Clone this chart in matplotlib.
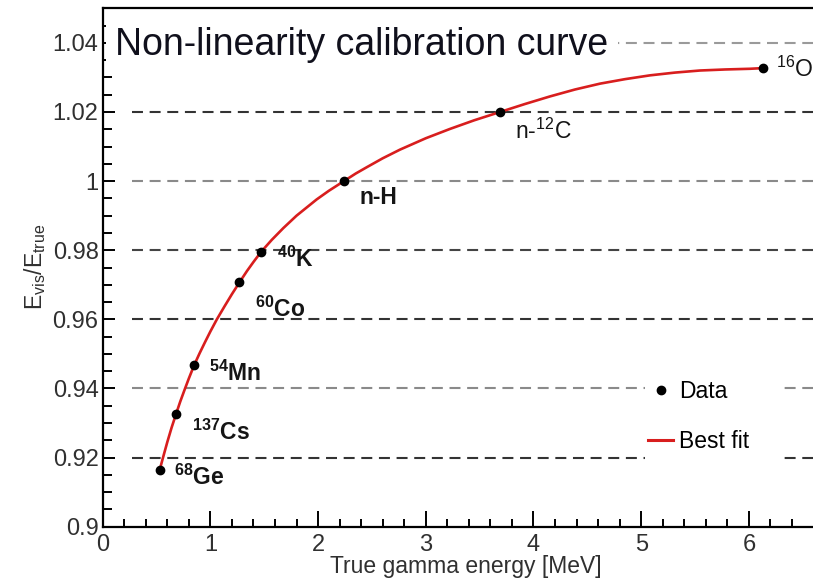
import matplotlib
matplotlib.use("Agg")
import matplotlib.pyplot as plt
from matplotlib.lines import Line2D
from matplotlib.patches import Rectangle
from matplotlib.ticker import MultipleLocator, FuncFormatter

plt.rcParams['font.family'] = ['Liberation Sans', 'DejaVu Sans']
plt.rcParams['mathtext.fontset'] = 'custom'
plt.rcParams['mathtext.rm'] = 'Liberation Sans'
plt.rcParams['mathtext.bf'] = 'Liberation Sans:bold'
plt.rcParams['mathtext.it'] = 'Liberation Sans:italic'
plt.rcParams['lines.scale_dashes'] = False

# Calibration sources: true gamma energy [MeV] and E_vis / E_true
source_labels = [r"$^{\mathbf{68}}$Ge", r"$^{\mathbf{137}}$Cs", r"$^{\mathbf{54}}$Mn",
                 r"$^{\mathbf{60}}$Co", r"$^{\mathbf{40}}$K", "n-H",
                 r"n-$^{12}$C", r"$^{16}$O"]
energy = [0.53, 0.68, 0.85, 1.27, 1.47, 2.24, 3.69, 6.13]
ratio = [0.9165, 0.9325, 0.9468, 0.9707, 0.9795, 1.0000, 1.0199, 1.0327]

# Best-fit non-linearity curve
fit_energy = [0.530, 0.560, 0.600, 0.640, 0.680, 0.720, 0.760, 0.800, 0.850,
              0.900, 0.950, 1.000, 1.060, 1.130, 1.200, 1.270, 1.340, 1.400,
              1.470, 1.570, 1.677, 1.800, 1.987, 2.100, 2.240, 2.350, 2.451,
              2.600, 2.760, 3.000, 3.225, 3.450, 3.690, 3.920, 4.153, 4.385,
              4.618, 4.850, 5.082, 5.314, 5.546, 5.780, 6.010, 6.134]
fit_ratio = [0.9165, 0.9200, 0.9245, 0.9287, 0.9325, 0.9362, 0.9396, 0.9429, 0.9468,
             0.9502, 0.9534, 0.9565, 0.9600, 0.9637, 0.9673, 0.9707, 0.9740, 0.9766,
             0.9795, 0.9830, 0.9864, 0.9900, 0.9947, 0.9972, 1.0000, 1.0022, 1.0040,
             1.0066, 1.0091, 1.0124, 1.0151, 1.0176, 1.0200, 1.0223, 1.0245, 1.0265,
             1.0282, 1.0295, 1.0306, 1.0314, 1.0320, 1.0323, 1.0325, 1.0327]

RED = '#d81e1e'
GREY_TXT = '#303030'

fig = plt.figure(figsize=(8.13, 5.80), dpi=100)
ax = fig.add_axes([102.7 / 813, 53.3 / 580, 710.8 / 813, 518.4 / 580])
ax.set_xlim(0, 6.6)
ax.set_ylim(0.9, 1.05)

ax.xaxis.set_major_locator(MultipleLocator(1))
ax.xaxis.set_minor_locator(MultipleLocator(0.2))
ax.yaxis.set_major_locator(MultipleLocator(0.02))
ax.yaxis.set_minor_locator(MultipleLocator(0.005))
ax.yaxis.set_major_formatter(FuncFormatter(lambda v, p: f"{v:g}"))
ax.xaxis.set_major_formatter(FuncFormatter(lambda v, p: f"{v:g}"))

ax.tick_params(axis='both', which='both', direction='in', color='black',
               width=1.4, labelsize=17, labelcolor=GREY_TXT)
ax.tick_params(axis='x', which='major', length=11.5, pad=5)
ax.tick_params(axis='x', which='minor', length=5.8)
ax.tick_params(axis='y', which='major', length=8.6, pad=3)
ax.tick_params(axis='y', which='minor', length=6.5)

for side in ('left', 'bottom', 'top'):
    ax.spines[side].set_linewidth(1.6)
ax.spines['right'].set_visible(False)

# Dashed horizontal reference lines at the major y ticks
grid_colors = ['#333333', '#8a8a8a', '#333333', '#444444', '#8a8a8a', '#333333', '#9a9a9a']
yt = [t for t in ax.get_yticks() if 0.91 < t < 1.05]
for t, c in zip(yt, grid_colors):
    ax.hlines(t, 0.27, 6.6, colors=c, linestyles=(0, (7.9, 4.8)), linewidth=1.5, zorder=1)

# Fit curve and data points
ax.plot(fit_energy, fit_ratio, color=RED, lw=1.9, zorder=3,
        solid_capstyle='round', solid_joinstyle='round')
ax.plot(energy, ratio, 'o', color='black', ms=6, zorder=4)

# Source labels next to each point
label_offsets = [(9.9, -11.3), (11.5, -18.4), (10.6, -11.7), (11.3, -25.0),
                 (11.5, -10.8), (11.5, -16.3), (10.4, -18.9), (9.6, -6.4)]
label_weights = ['bold'] * 6 + ['normal'] * 2
for x, y, lab, off, w in zip(energy, ratio, source_labels, label_offsets, label_weights):
    ax.annotate(lab, (x, y), xytext=off, textcoords='offset points',
                ha='left', va='baseline', fontsize=16.5, fontweight=w,
                color='#151515', zorder=5, annotation_clip=False)

# Legend on a white patch
ax.add_patch(Rectangle((0.763, 0.109), 0.194, 0.2125, transform=ax.transAxes,
                       facecolor='white', edgecolor='none', zorder=2))
handles = [Line2D([], [], marker='o', ls='none', color='black', ms=6),
           Line2D([], [], color=RED, lw=2.2)]
leg = ax.legend(handles, ['Data', 'Best fit'], loc='center left',
                bbox_to_anchor=(0.7672, 0.2125), frameon=False, borderpad=0,
                fontsize=16.5, handlelength=1.1, handletextpad=0.25,
                labelspacing=1.15, borderaxespad=0)
leg.set_zorder(6)

# Title in a white box
ax.text(115 / 813, 1 - 55 / 580, 'Non-linearity calibration curve',
        transform=fig.transFigure, fontsize=27, color='#10101c',
        ha='left', va='baseline', zorder=2.2, clip_on=False,
        bbox=dict(boxstyle='square,pad=0.25', facecolor='white', edgecolor='none'))

# Axis titles
fig.text(602 / 813, 7 / 580, 'True gamma energy [MeV]', ha='right', va='baseline',
         fontsize=16.5, color=GREY_TXT)
fig.text(35 / 813, 1 - 267 / 580, r'E$_{\rm vis}$/E$_{\rm true}$', rotation=90,
         ha='center', va='center', fontsize=16.5, color=GREY_TXT)

fig.savefig('out.png', dpi=100)
